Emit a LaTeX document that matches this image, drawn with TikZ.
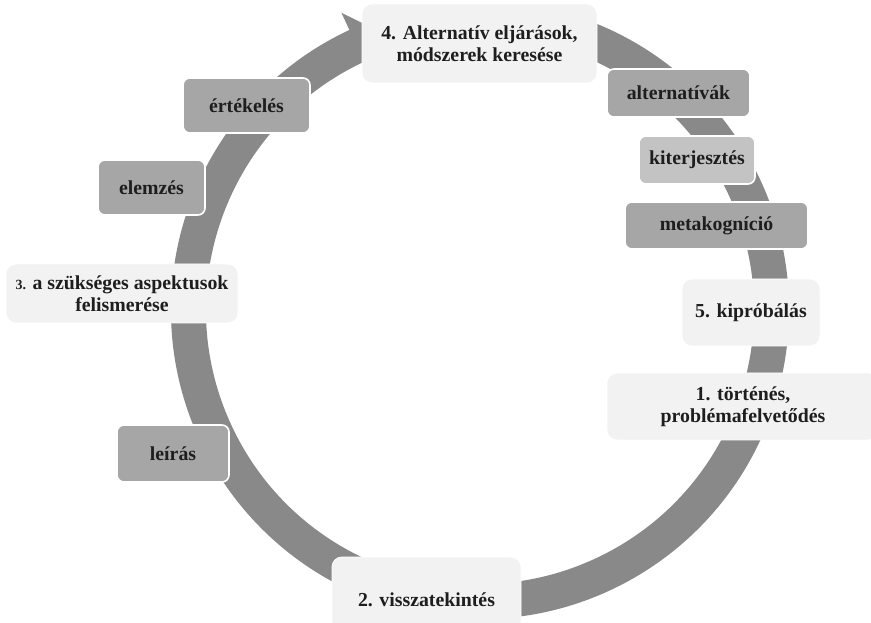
\documentclass[tikz,border=0pt]{standalone}
\usepackage{fontspec}
\setmainfont{Liberation Serif}
\definecolor{ringc}{HTML}{898989}
\definecolor{boxlight}{HTML}{F2F2F2}
\definecolor{boxdark}{HTML}{A6A6A6}
\definecolor{boxmid}{HTML}{C3C3C3}
\definecolor{textc}{HTML}{1E1E1E}
\begin{document}
\begin{tikzpicture}[x=1pt,y=1pt,
  basebox/.style={inner sep=0pt, align=center, text=textc,
    font=\fontsize{19.8}{22}\selectfont\bfseries},
  lightbox/.style={basebox, fill=boxlight, draw=white, line width=0.8pt, rounded corners=10pt},
  darkbox/.style={basebox, fill=boxdark, draw=white, line width=1.6pt, rounded corners=7pt},
  midbox/.style={darkbox, fill=boxmid}]
\useasboundingbox (0,0) rectangle (871,622);
\clip (0,0) rectangle (871,622);
\coordinate (C) at (480,312);
% circular arrow
\fill[ringc] ([shift={(C)}]80:309pt) arc[start angle=80, end angle=-245, radius=309pt]
  -- ([shift={(C)}]115:328pt) -- ([shift={(C)}]109:291.5pt) -- ([shift={(C)}]115:255pt)
  -- ([shift={(C)}]115:274pt) arc[start angle=-245, end angle=80, radius=274pt] -- cycle;
% boxes
\node[lightbox, minimum width=235, minimum height=79] (b4) at (479.5,578.5) {4. Alternatív eljárások,\\módszerek keresése};
\node[darkbox, minimum width=143, minimum height=48] (alt) at (678.5,529) {alternatívák};
\node[midbox, minimum width=116, minimum height=48] (kit) at (697,462) {kiterjesztés};
\node[darkbox, minimum width=183, minimum height=47] (meta) at (716.5,396.5) {metakogníció};
\node[lightbox, minimum width=138, minimum height=67] (b5) at (751,309.5) {5. kipróbálás};
\node[lightbox, minimum width=272, minimum height=67] (b1) at (743,215.5) {1. történés,\\problémafelvetődés};
\node[lightbox, minimum width=189, minimum height=86] (b2) at (426.5,22) {2. visszatekintés};
\node[lightbox, minimum width=232, minimum height=59] (b3) at (122,328.5) {{\fontsize{14}{22}\selectfont 3.} a szükséges aspektusok\\felismerése};
\node[darkbox, minimum width=112, minimum height=57] (leir) at (173,168.5) {leírás};
\node[darkbox, minimum width=127, minimum height=55] (ertek) at (246.5,516.5) {értékelés};
\node[darkbox, minimum width=107, minimum height=55] (elem) at (151.5,434.5) {elemzés};
\end{tikzpicture}
\end{document}
